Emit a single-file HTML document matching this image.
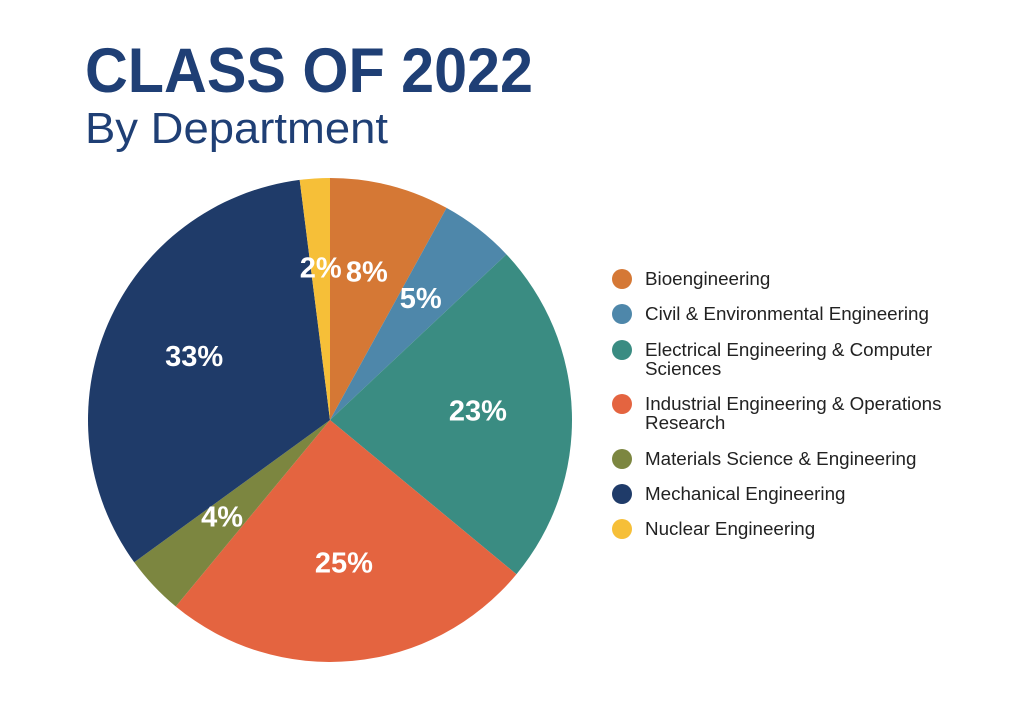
<!DOCTYPE html>
<html><head><meta charset="utf-8"><style>
html,body{margin:0;padding:0;background:#fff;width:1024px;height:722px;overflow:hidden}
svg{display:block}
</style></head><body>
<svg id="chart" width="1024" height="722" viewBox="0 0 1024 722">
<text x="85" y="92" font-family="Liberation Sans, sans-serif" font-weight="bold" font-size="63" fill="#1F3F75" textLength="448" lengthAdjust="spacingAndGlyphs">CLASS OF 2022</text>
<text x="85" y="143" font-family="Liberation Sans, sans-serif" font-size="44" fill="#1F3F75" textLength="303" lengthAdjust="spacingAndGlyphs">By Department</text>
<g id="slices"></g><g id="labels"></g><g id="legend"></g>
</svg>
<script>
const categories = ["Bioengineering","Civil & Environmental Engineering","Electrical Engineering & Computer Sciences","Industrial Engineering & Operations Research","Materials Science & Engineering","Mechanical Engineering","Nuclear Engineering"];
const values = [8,5,23,25,4,33,2];
const valueLabels = ["8%","5%","23%","25%","4%","33%","2%"];
const legendLines = [["Bioengineering"],["Civil & Environmental Engineering"],["Electrical Engineering & Computer","Sciences"],["Industrial Engineering & Operations","Research"],["Materials Science & Engineering"],["Mechanical Engineering"],["Nuclear Engineering"]];
const colors = ["#D57835","#4E87AA","#3A8C82","#E46440","#7C8640","#1F3B69","#F6BF38"];
const NS="http://www.w3.org/2000/svg";
const cx=330, cy=420, R=242, LR=148;
const total=values.reduce((a,b)=>a+b,0);
function pt(a,r){return [cx+r*Math.sin(a), cy-r*Math.cos(a)];}
let acc=0;
const gS=document.getElementById('slices'), gL=document.getElementById('labels'), gG=document.getElementById('legend');
values.forEach((v,i)=>{
  const a0=acc/total*2*Math.PI; acc+=v; const a1=acc/total*2*Math.PI;
  const p0=pt(a0,R), p1=pt(a1,R);
  const p=document.createElementNS(NS,'path');
  p.setAttribute('d',`M${cx},${cy} L${p0[0]},${p0[1]} A${R},${R} 0 ${a1-a0>Math.PI?1:0} 1 ${p1[0]},${p1[1]} Z`);
  p.setAttribute('fill',colors[i]);
  
  
  gS.appendChild(p);
  const m=pt((a0+a1)/2,LR);
  const t=document.createElementNS(NS,'text');
  t.setAttribute('x',m[0]); t.setAttribute('y',m[1]+5);
  t.setAttribute('text-anchor','middle'); t.setAttribute('fill','#fff');
  t.setAttribute('font-family','Liberation Sans, sans-serif'); t.setAttribute('font-weight','bold'); t.setAttribute('font-size','29');
  t.textContent=valueLabels[i];
  
  
  gL.appendChild(t);
});
const rowY=[279,314,350,404,459,494,529];
categories.forEach((c,i)=>{
  const g=document.createElementNS(NS,'g');
  
  
  const ci=document.createElementNS(NS,'circle');
  ci.setAttribute('cx',622); ci.setAttribute('cy',rowY[i]); ci.setAttribute('r',10); ci.setAttribute('fill',colors[i]);
  
  
  g.appendChild(ci);
  legendLines[i].forEach((ln,j)=>{
    const t=document.createElementNS(NS,'text');
    t.setAttribute('x',645); t.setAttribute('y',rowY[i]+6+j*19);
    t.setAttribute('font-family','Liberation Sans, sans-serif'); t.setAttribute('font-size','18.8'); t.setAttribute('fill','#222');
    t.textContent=ln;
    
    
    g.appendChild(t);
  });
  gG.appendChild(g);
});
</script>
</body></html>
